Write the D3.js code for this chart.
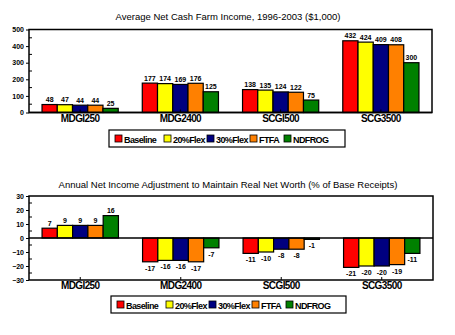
<!DOCTYPE html>
<html>
<head>
<meta charset="utf-8">
<script src="https://cdn.jsdelivr.net/npm/d3@7"></script>
<style>
body { margin: 0; background: #fff; }
text { font-family: "Liberation Sans", Arial, sans-serif; }
</style>
</head>
<body>
<script>
var width = 455;
var height = 335;

var categories = ["MDGI250", "MDG2400", "SCGI500", "SCG3500"];
var seriesNames = ["Baseline", "20%Flex", "30%Flex", "FTFA", "NDFROG"];
var colors = ["#ff0000", "#ffff00", "#000080", "#ff8000", "#008000"];

// values per category, in series order
var incomeValues = [
    [48, 47, 44, 44, 25],
    [177, 174, 169, 176, 125],
    [138, 135, 124, 122, 75],
    [432, 424, 409, 408, 300]
];
var adjustValues = [
    [7, 9, 9, 9, 16],
    [-17, -16, -16, -17, -7],
    [-11, -10, -8, -8, -1],
    [-21, -20, -20, -19, -11]
];
var incomeTicks = [0, 100, 200, 300, 400, 500];
var adjustTicks = [-30, -20, -10, 0, 10, 20, 30];

var svg = d3.select("body")
    .append("svg")
    .attr("width", width)
    .attr("height", height);

function drawChart(opt) {
    var g = svg.append("g");

    var x = d3.scaleBand()
        .domain(categories)
        .range([opt.left, opt.right])
        .paddingInner(0.24)
        .paddingOuter(0.13);

    var xs = d3.scaleBand()
        .domain(seriesNames)
        .range([0, x.bandwidth()]);

    var y = d3.scaleLinear()
        .domain(opt.domain)
        .range([opt.bottom, opt.top]);

    // title
    g.append("text")
        .attr("x", opt.titleX)
        .attr("y", opt.titleY)
        .attr("text-anchor", "middle")
        .attr("font-size", "9.5px")
        .text(opt.title);

    // minor ticks inside the frame
    var step = opt.ticks[1] - opt.ticks[0];
    var minor = opt.ticks.slice(0, -1).map(function(t) { return t + step / 2; });
    g.selectAll(".minor")
        .data(minor)
        .enter()
        .append("line")
        .attr("x1", opt.left)
        .attr("x2", opt.left + 3)
        .attr("y1", function(d) { return y(d); })
        .attr("y2", function(d) { return y(d); })
        .attr("stroke", "#000");

    // y axis labels
    var yAxis = d3.axisLeft(y)
        .tickValues(opt.ticks)
        .tickSize(3)
        .tickPadding(2);
    var ya = g.append("g")
        .attr("transform", "translate(" + opt.left + ",0)")
        .call(yAxis);
    ya.select(".domain").remove();
    ya.selectAll("text")
        .attr("font-size", "7px")
        .attr("font-weight", "bold")
        .attr("font-family", "'Liberation Sans', Arial, sans-serif");

    // bars
    var groups = g.selectAll(".grp")
        .data(opt.values)
        .enter()
        .append("g")
        .attr("transform", function(d, i) {
            return "translate(" + x(categories[i]) + ",0)";
        });

    groups.selectAll("rect")
        .data(function(d) { return d; })
        .enter()
        .append("rect")
        .attr("x", function(d, i) { return xs(seriesNames[i]); })
        .attr("width", xs.bandwidth())
        .attr("y", function(d) { return y(Math.max(0, d)); })
        .attr("height", function(d) { return Math.abs(y(d) - y(0)); })
        .attr("fill", function(d, i) { return colors[i]; })
        .attr("stroke", "#000")
        .attr("stroke-width", 1.2);

    groups.selectAll(".val")
        .data(function(d) { return d; })
        .enter()
        .append("text")
        .attr("x", function(d, i) { return xs(seriesNames[i]) + xs.bandwidth() / 2; })
        .attr("y", function(d) { return d >= 0 ? y(d) - 2.5 : y(d) + 9; })
        .attr("text-anchor", "middle")
        .attr("font-size", "7px")
        .attr("font-weight", "bold")
        .text(function(d) { return d; });

    // zero line
    g.append("line")
        .attr("x1", opt.left)
        .attr("x2", opt.right)
        .attr("y1", y(0))
        .attr("y2", y(0))
        .attr("stroke", "#000")
        .attr("stroke-width", 1.5);

    // category ticks
    g.selectAll(".ctick")
        .data(categories)
        .enter()
        .append("line")
        .attr("x1", function(d) { return x(d) + x.bandwidth() / 2; })
        .attr("x2", function(d) { return x(d) + x.bandwidth() / 2; })
        .attr("y1", opt.bottom)
        .attr("y2", opt.bottom - 3)
        .attr("stroke", "#000");

    // frame
    g.append("rect")
        .attr("x", opt.left)
        .attr("y", opt.top)
        .attr("width", opt.right - opt.left)
        .attr("height", opt.bottom - opt.top)
        .attr("fill", "none")
        .attr("stroke", "#000")
        .attr("stroke-width", 1.5);

    // category labels
    g.selectAll(".cat")
        .data(categories)
        .enter()
        .append("text")
        .attr("x", function(d) { return x(d) + x.bandwidth() / 2; })
        .attr("y", opt.catY)
        .attr("text-anchor", "middle")
        .attr("font-size", "10px")
        .attr("font-weight", "bold")
        .attr("letter-spacing", "-0.6px")
        .text(function(d) { return d; });

    // legend
    var lg = g.append("g");
    lg.append("rect")
        .attr("x", opt.legX)
        .attr("y", opt.legY)
        .attr("width", opt.legW)
        .attr("height", 17)
        .attr("fill", "#fff")
        .attr("stroke", "#000")
        .attr("stroke-width", 1.2);

    var legOffsets = [6, 55, 98, 141, 175];
    var items = lg.selectAll(".li")
        .data(seriesNames)
        .enter()
        .append("g")
        .attr("transform", function(d, i) {
            return "translate(" + (opt.legX + legOffsets[i]) + "," + (opt.legY + 5) + ")";
        });
    items.append("rect")
        .attr("width", 7)
        .attr("height", 7)
        .attr("fill", function(d, i) { return colors[i]; })
        .attr("stroke", "#000")
        .attr("stroke-width", 0.8);
    items.append("text")
        .attr("x", 9)
        .attr("y", 7.5)
        .attr("font-size", "9px")
        .attr("font-weight", "bold")
        .attr("letter-spacing", "-0.6px")
        .text(function(d) { return d; });
}

drawChart({
    title: "Average Net Cash Farm Income, 1996-2003 ($1,000)",
    titleX: 228, titleY: 20,
    values: incomeValues,
    domain: [0, 500],
    ticks: incomeTicks,
    left: 29, right: 432, top: 29.5, bottom: 112.5,
    catY: 122,
    legX: 109, legY: 130, legW: 236
});

drawChart({
    title: "Annual Net Income Adjustment to Maintain Real Net Worth (% of Base Receipts)",
    titleX: 228, titleY: 188,
    values: adjustValues,
    domain: [-30, 30],
    ticks: adjustTicks,
    left: 29, right: 433, top: 196, bottom: 280,
    catY: 289,
    legX: 111, legY: 296, legW: 235
});
</script>
</body>
</html>
